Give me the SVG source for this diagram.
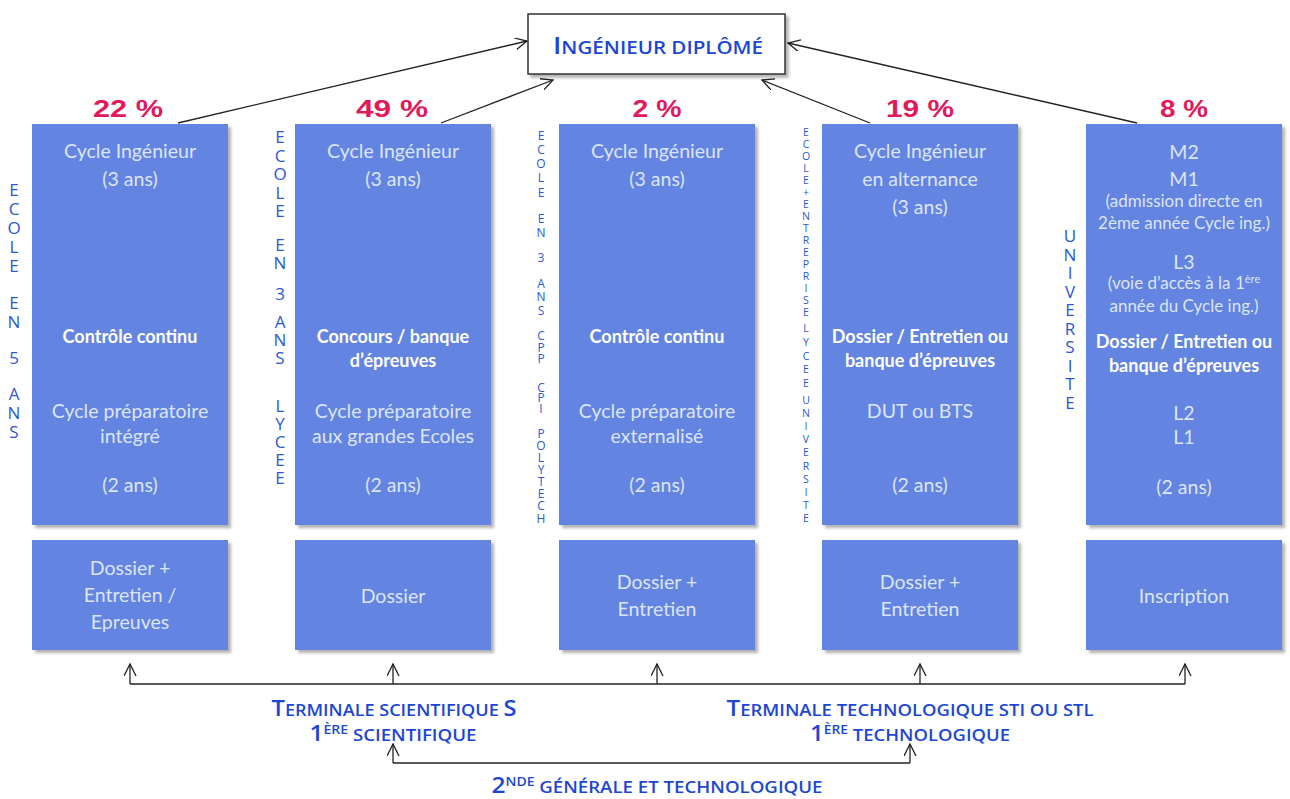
<svg xmlns="http://www.w3.org/2000/svg" width="1290" height="799" viewBox="0 0 1290 799">
<defs>
<filter id="sh" x="-5%" y="-5%" width="115%" height="115%">
<feDropShadow dx="3" dy="3" stdDeviation="1.5" flood-color="#000" flood-opacity="0.3"/>
</filter>
<marker id="ah" markerWidth="14" markerHeight="14" refX="12" refY="6" orient="auto" markerUnits="userSpaceOnUse">
<path d="M0,0 L12,6 L0,12" fill="none" stroke="#222" stroke-width="1.3"/>
</marker>
<style>
.box{fill:#6384e0;filter:url(#sh)}
.t{font-family:Lato,'Open Sans',sans-serif;font-size:19.5px;fill:#dce5fa;text-anchor:middle}
.s{font-size:17px}
.b{font-weight:bold;fill:#ffffff;font-size:18px}
.v{font-family:'Open Sans',sans-serif;fill:#2c58d4;text-anchor:middle;font-size:16px}
.pct{font-family:'Liberation Sans',Arial,sans-serif;font-weight:bold;font-size:24px;fill:#e2195b;text-anchor:middle}
.sc{font-family:'Open Sans',sans-serif;fill:#1c47d4;font-size:16px;font-weight:600;text-anchor:middle}
.big{font-size:21px}
.ln{stroke:#222;stroke-width:1.3;fill:none}
</style>
</defs>

<g id="connectors">
<line class="ln" x1="178" y1="123" x2="527" y2="41" marker-end="url(#ah)"/>
<line class="ln" x1="441" y1="123" x2="553" y2="80" marker-end="url(#ah)"/>
<line class="ln" x1="870" y1="123" x2="762" y2="80" marker-end="url(#ah)"/>
<line class="ln" x1="1137" y1="123" x2="788" y2="43" marker-end="url(#ah)"/>
<line class="ln" x1="130" y1="684" x2="1185" y2="684"/>
<line class="ln" x1="130" y1="684" x2="130" y2="664" marker-end="url(#ah)"/>
<line class="ln" x1="393" y1="684" x2="393" y2="664" marker-end="url(#ah)"/>
<line class="ln" x1="657" y1="684" x2="657" y2="664" marker-end="url(#ah)"/>
<line class="ln" x1="920" y1="684" x2="920" y2="664" marker-end="url(#ah)"/>
<line class="ln" x1="1185" y1="684" x2="1185" y2="664" marker-end="url(#ah)"/>
<line class="ln" x1="393" y1="763" x2="910" y2="763"/>
<line class="ln" x1="393" y1="763" x2="393" y2="744" marker-end="url(#ah)"/>
<line class="ln" x1="910" y1="763" x2="910" y2="744" marker-end="url(#ah)"/>
</g>

<g id="title">
<rect x="528" y="14" width="257" height="60" fill="#fff" stroke="#333" stroke-width="1.5" filter="url(#sh)"/>
<text class="sc" x="658" y="54" textLength="210" lengthAdjust="spacingAndGlyphs" style="font-size:18px"><tspan class="big" style="font-size:24px">I</tspan>NGÉNIEUR DIPLÔMÉ</text>
</g>

<g id="percentages">
<text class="pct" x="128" y="117" textLength="70" lengthAdjust="spacingAndGlyphs">22 %</text>
<text class="pct" x="392" y="117" textLength="72" lengthAdjust="spacingAndGlyphs">49 %</text>
<text class="pct" x="657" y="117" textLength="49" lengthAdjust="spacingAndGlyphs">2 %</text>
<text class="pct" x="920" y="117" textLength="68" lengthAdjust="spacingAndGlyphs">19 %</text>
<text class="pct" x="1184" y="117" textLength="48" lengthAdjust="spacingAndGlyphs">8 %</text>
</g>

<g id="labels-vertical">
<text class="v" style="font-size:17px"><tspan x="14" y="196">E</tspan><tspan x="14" y="215">C</tspan><tspan x="14" y="234">O</tspan><tspan x="14" y="253">L</tspan><tspan x="14" y="272">E</tspan><tspan x="14" y="309">E</tspan><tspan x="14" y="328">N</tspan><tspan x="14" y="364">5</tspan><tspan x="14" y="400">A</tspan><tspan x="14" y="419">N</tspan><tspan x="14" y="438">S</tspan></text>
<text class="v" style="font-size:17px"><tspan x="280" y="143">E</tspan><tspan x="280" y="161.5">C</tspan><tspan x="280" y="180">O</tspan><tspan x="280" y="198.5">L</tspan><tspan x="280" y="217">E</tspan><tspan x="280" y="251">E</tspan><tspan x="280" y="269">N</tspan><tspan x="280" y="300">3</tspan><tspan x="280" y="328">A</tspan><tspan x="280" y="346">N</tspan><tspan x="280" y="364">S</tspan><tspan x="280" y="412">L</tspan><tspan x="280" y="430">Y</tspan><tspan x="280" y="448">C</tspan><tspan x="280" y="466">E</tspan><tspan x="280" y="484">E</tspan></text>
<text class="v" style="font-size:12px"><tspan x="541" y="139.5">E</tspan><tspan x="541" y="153.8">C</tspan><tspan x="541" y="168">O</tspan><tspan x="541" y="182.3">L</tspan><tspan x="541" y="196.5">E</tspan><tspan x="541" y="222.5">E</tspan><tspan x="541" y="236.5">N</tspan><tspan x="541" y="261.5">3</tspan><tspan x="541" y="287.5">A</tspan><tspan x="541" y="301">N</tspan><tspan x="541" y="314.5">S</tspan><tspan x="541" y="339.5">C</tspan><tspan x="541" y="351.5">P</tspan><tspan x="541" y="363">P</tspan><tspan x="541" y="391.5">C</tspan><tspan x="541" y="402">P</tspan><tspan x="541" y="412.5">I</tspan><tspan x="541" y="437.5">P</tspan><tspan x="541" y="449.6">O</tspan><tspan x="541" y="461.8">L</tspan><tspan x="541" y="473.9">Y</tspan><tspan x="541" y="486">T</tspan><tspan x="541" y="498.2">E</tspan><tspan x="541" y="510.3">C</tspan><tspan x="541" y="522.5">H</tspan></text>
<text class="v" style="font-size:10.5px"><tspan x="806" y="136">E</tspan><tspan x="806" y="148">C</tspan><tspan x="806" y="160">O</tspan><tspan x="806" y="172">L</tspan><tspan x="806" y="184">E</tspan><tspan x="806" y="196">+</tspan><tspan x="806" y="208">E</tspan><tspan x="806" y="220">N</tspan><tspan x="806" y="232">T</tspan><tspan x="806" y="244">R</tspan><tspan x="806" y="256">E</tspan><tspan x="806" y="268">P</tspan><tspan x="806" y="280">R</tspan><tspan x="806" y="292">I</tspan><tspan x="806" y="304">S</tspan><tspan x="806" y="316">E</tspan><tspan x="806" y="332">L</tspan><tspan x="806" y="345.8">Y</tspan><tspan x="806" y="359.5">C</tspan><tspan x="806" y="373.3">E</tspan><tspan x="806" y="387">E</tspan><tspan x="806" y="404">U</tspan><tspan x="806" y="417.1">N</tspan><tspan x="806" y="430.2">I</tspan><tspan x="806" y="443.3">V</tspan><tspan x="806" y="456.4">E</tspan><tspan x="806" y="469.5">R</tspan><tspan x="806" y="482.6">S</tspan><tspan x="806" y="495.7">I</tspan><tspan x="806" y="508.8">T</tspan><tspan x="806" y="522">E</tspan></text>
<text class="v" style="font-size:17px"><tspan x="1070" y="242">U</tspan><tspan x="1070" y="260.5">N</tspan><tspan x="1070" y="279">I</tspan><tspan x="1070" y="297.6">V</tspan><tspan x="1070" y="316.2">E</tspan><tspan x="1070" y="334.7">R</tspan><tspan x="1070" y="353.3">S</tspan><tspan x="1070" y="371.8">I</tspan><tspan x="1070" y="390.4">T</tspan><tspan x="1070" y="409">E</tspan></text>
</g>

<g id="col1">
<rect class="box" x="32" y="124" width="196" height="401"/>
<text class="t" x="130" y="158">Cycle Ingénieur</text>
<text class="t" x="130" y="186">(3 ans)</text>
<text class="t b" x="130" y="343">Contrôle continu</text>
<text class="t" x="130" y="418">Cycle préparatoire</text>
<text class="t" x="130" y="443">intégré</text>
<text class="t" x="130" y="492">(2 ans)</text>
</g>
<g id="col1-entry">
<rect class="box" x="32" y="540" width="196" height="110"/>
<text class="t" x="130" y="575">Dossier +</text>
<text class="t" x="130" y="602">Entretien /</text>
<text class="t" x="130" y="629">Epreuves</text>
</g>

<g id="col2">
<rect class="box" x="295" y="124" width="196" height="401"/>
<text class="t" x="393" y="158">Cycle Ingénieur</text>
<text class="t" x="393" y="186">(3 ans)</text>
<text class="t b" x="393" y="343">Concours / banque</text>
<text class="t b" x="393" y="367">d’épreuves</text>
<text class="t" x="393" y="418">Cycle préparatoire</text>
<text class="t" x="393" y="443">aux grandes Ecoles</text>
<text class="t" x="393" y="492">(2 ans)</text>
</g>
<g id="col2-entry">
<rect class="box" x="295" y="540" width="196" height="110"/>
<text class="t" x="393" y="603">Dossier</text>
</g>

<g id="col3">
<rect class="box" x="559" y="124" width="196" height="401"/>
<text class="t" x="657" y="158">Cycle Ingénieur</text>
<text class="t" x="657" y="186">(3 ans)</text>
<text class="t b" x="657" y="343">Contrôle continu</text>
<text class="t" x="657" y="418">Cycle préparatoire</text>
<text class="t" x="657" y="443">externalisé</text>
<text class="t" x="657" y="492">(2 ans)</text>
</g>
<g id="col3-entry">
<rect class="box" x="559" y="540" width="196" height="110"/>
<text class="t" x="657" y="589">Dossier +</text>
<text class="t" x="657" y="616">Entretien</text>
</g>

<g id="col4">
<rect class="box" x="822" y="124" width="196" height="401"/>
<text class="t" x="920" y="158">Cycle Ingénieur</text>
<text class="t" x="920" y="186">en alternance</text>
<text class="t" x="920" y="214">(3 ans)</text>
<text class="t b" x="920" y="343">Dossier / Entretien ou</text>
<text class="t b" x="920" y="367">banque d’épreuves</text>
<text class="t" x="920" y="418">DUT ou BTS</text>
<text class="t" x="920" y="492">(2 ans)</text>
</g>
<g id="col4-entry">
<rect class="box" x="822" y="540" width="196" height="110"/>
<text class="t" x="920" y="589">Dossier +</text>
<text class="t" x="920" y="616">Entretien</text>
</g>

<g id="col5">
<rect class="box" x="1086" y="124" width="196" height="401"/>
<text class="t" x="1184" y="159">M2</text>
<text class="t" x="1184" y="186">M1</text>
<text class="t s" x="1184" y="207">(admission directe en</text>
<text class="t s" x="1184" y="229">2ème année Cycle ing.)</text>
<text class="t" x="1184" y="269">L3</text>
<text class="t s" x="1184" y="289">(voie d’accès à la 1<tspan dy="-6" style="font-size:11px">ère</tspan></text>
<text class="t s" x="1184" y="312">année du Cycle ing.)</text>
<text class="t b" x="1184" y="348">Dossier / Entretien ou</text>
<text class="t b" x="1184" y="372">banque d’épreuves</text>
<text class="t" x="1184" y="420">L2</text>
<text class="t" x="1184" y="444">L1</text>
<text class="t" x="1184" y="494">(2 ans)</text>
</g>
<g id="col5-entry">
<rect class="box" x="1086" y="540" width="196" height="110"/>
<text class="t" x="1184" y="603">Inscription</text>
</g>

<g id="terminale-s">
<text class="sc" x="394" y="716" textLength="245" lengthAdjust="spacingAndGlyphs"><tspan class="big">T</tspan>ERMINALE SCIENTIFIQUE <tspan class="big">S</tspan></text>
<text class="sc" x="393" y="741" textLength="167" lengthAdjust="spacingAndGlyphs"><tspan class="big">1</tspan><tspan dy="-7" style="font-size:12px">ÈRE</tspan><tspan dy="7"> SCIENTIFIQUE</tspan></text>
</g>
<g id="terminale-tech">
<text class="sc" x="910" y="716" textLength="367" lengthAdjust="spacingAndGlyphs"><tspan class="big">T</tspan>ERMINALE TECHNOLOGIQUE STI OU STL</text>
<text class="sc" x="910" y="741" textLength="200" lengthAdjust="spacingAndGlyphs"><tspan class="big">1</tspan><tspan dy="-7" style="font-size:12px">ÈRE</tspan><tspan dy="7"> TECHNOLOGIQUE</tspan></text>
</g>
<g id="seconde">
<text class="sc" x="657" y="793" textLength="331" lengthAdjust="spacingAndGlyphs"><tspan class="big">2</tspan><tspan dy="-7" style="font-size:12px">NDE</tspan><tspan dy="7"> GÉNÉRALE ET TECHNOLOGIQUE</tspan></text>
</g>
</svg>
